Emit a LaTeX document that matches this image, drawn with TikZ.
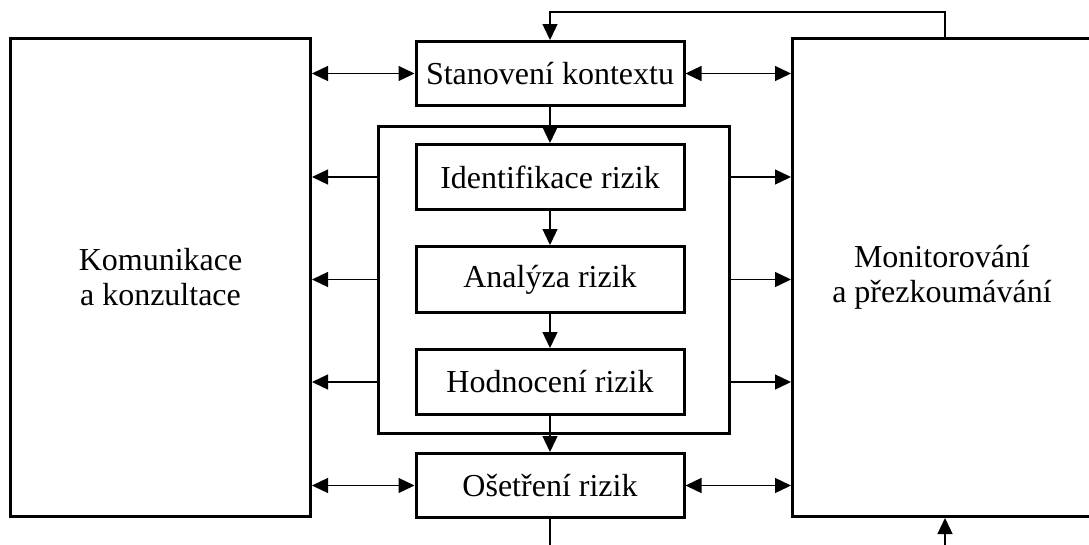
\documentclass[tikz,border=0pt]{standalone}
\usepackage{fontspec}
\setmainfont{Liberation Serif}
\usetikzlibrary{arrows.meta}
\begin{document}
\begin{tikzpicture}[x=1pt,y=-1pt,
  box/.style={draw, line width=3pt, inner sep=0pt, align=center,
    font=\fontsize{32}{35}\selectfont},
  link/.style={line width=1.3pt, -{Triangle[length=16pt,width=15pt]}},
  both/.style={line width=1.3pt, {Triangle[length=16pt,width=15pt]}-{Triangle[length=16pt,width=15pt]}}]
\useasboundingbox (0,0) rectangle (1089,544);
\clip (0,0) rectangle (1089,544);

% side panels
\node[box, minimum width=300pt, minimum height=478pt] (komun) at (160.5,277.5) {Komunikace\\a konzultace};
\node[box, minimum width=299pt, minimum height=478pt] (monit) at (942,277.5) {Monitorování\\a přezkoumávání};

% assessment group frame
\node[box, minimum width=351pt, minimum height=307pt] (group) at (554,280) {};

% process steps
\node[box, minimum width=268pt, minimum height=64pt] (stan) at (550,73.5) {Stanovení kontextu};
\node[box, minimum width=268pt, minimum height=65pt] (ident) at (550,177) {Identifikace rizik};
\node[box, minimum width=268pt, minimum height=66pt] (anal) at (550,279.5) {Analýza rizik};
\node[box, minimum width=268pt, minimum height=65pt] (hodn) at (550,382) {Hodnocení rizik};
\node[box, minimum width=268pt, minimum height=64pt] (oset) at (550,485.5) {Ošetření rizik};

% main flow
\draw[link] (stan) -- (ident);
\draw[link] (ident) -- (anal);
\draw[link] (anal) -- (hodn);
\draw[link] (hodn) -- (oset);

% two-way links to the side panels
\draw[both] (komun.east |- stan) -- (stan.west);
\draw[both] (stan.east) -- (monit.west |- stan);
\draw[both] (komun.east |- oset) -- (oset.west);
\draw[both] (oset.east) -- (monit.west |- oset);

% group outputs
\foreach \s in {ident, anal, hodn} {
  \draw[link] (group.west |- \s) -- (komun.east |- \s);
  \draw[link] (group.east |- \s) -- (monit.west |- \s);
}

% feedback loop
\draw[link] ([xshift=3pt]monit.north) -- ++(0,-25) -| (stan.north);
\draw[link] (oset.south) -- ++(0,60) -| ([xshift=3pt]monit.south);
\end{tikzpicture}
\end{document}
